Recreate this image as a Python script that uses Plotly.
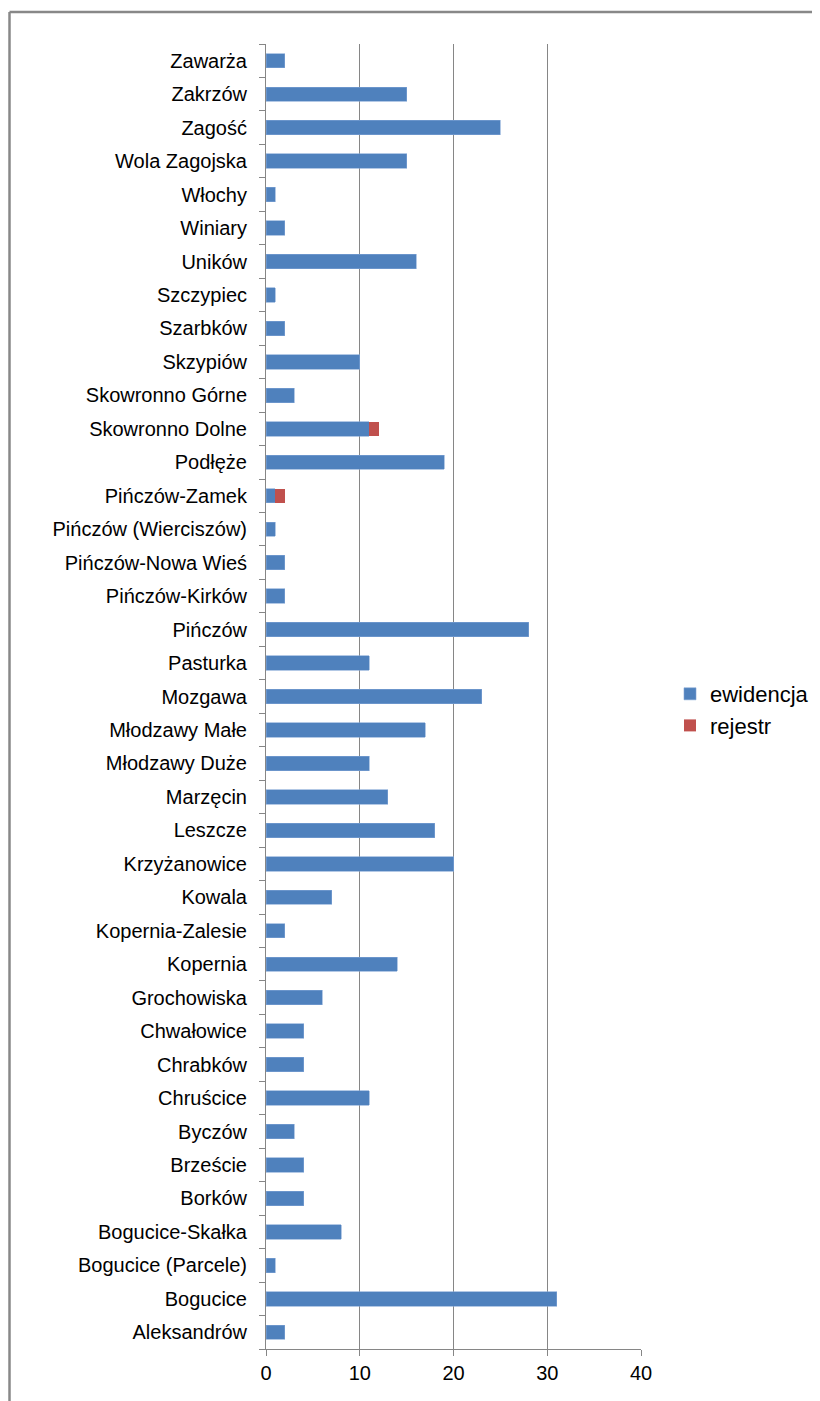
import plotly.graph_objects as go

categories = [
    "Aleksandrów", "Bogucice", "Bogucice (Parcele)", "Bogucice-Skałka", "Borków",
    "Brzeście", "Byczów", "Chruścice", "Chrabków", "Chwałowice", "Grochowiska",
    "Kopernia", "Kopernia-Zalesie", "Kowala", "Krzyżanowice", "Leszcze", "Marzęcin",
    "Młodzawy Duże", "Młodzawy Małe", "Mozgawa", "Pasturka", "Pińczów",
    "Pińczów-Kirków", "Pińczów-Nowa Wieś", "Pińczów (Wierciszów)", "Pińczów-Zamek",
    "Podłęże", "Skowronno Dolne", "Skowronno Górne", "Skzypiów", "Szarbków",
    "Szczypiec", "Uników", "Winiary", "Włochy", "Wola Zagojska", "Zagość",
    "Zakrzów", "Zawarża",
]
ewidencja = [2, 31, 1, 8, 4, 4, 3, 11, 4, 4, 6, 14, 2, 7, 20, 18, 13, 11, 17, 23,
             11, 28, 2, 2, 1, 1, 19, 11, 3, 10, 2, 1, 16, 2, 1, 15, 25, 15, 2]
rejestr = [0, 0, 0, 0, 0, 0, 0, 0, 0, 0, 0, 0, 0, 0, 0, 0, 0, 0, 0, 0,
           0, 0, 0, 0, 0, 1, 0, 1, 0, 0, 0, 0, 0, 0, 0, 0, 0, 0, 0]
x_ticks = [0, 10, 20, 30, 40]

FONT = "Liberation Sans, Arial, sans-serif"

# page body has an 8px margin: figure is shrunk/shifted to compensate
W, H = 812, 1393
L, R, T, B = 258, 179, 36, 52
PW, PH = W - L - R, H - T - B

fig = go.Figure()
fig.add_trace(go.Bar(
    y=categories, x=ewidencja, orientation="h", name="ewidencja",
    legendgroup="a",
    marker=dict(color="#4F81BD", line=dict(color="#7FA3D3", width=0.6)),
))
fig.add_trace(go.Bar(
    y=categories, x=rejestr, orientation="h", name="rejestr",
    legendgroup="b",
    marker=dict(color="#C0504D", line=dict(width=0)),
))

fig.update_layout(
    width=W, height=H,
    barmode="stack", bargap=0.57,
    plot_bgcolor="white", paper_bgcolor="white",
    margin=dict(l=L, r=R, t=T, b=B, autoexpand=False),
    font=dict(family=FONT, size=20, color="black"),
    showlegend=True,
    legend=dict(
        x=(662 - L) / PW, y=(H - B - 702) / PH, xanchor="left", yanchor="middle",
        font=dict(family=FONT, size=22, color="black"),
        itemwidth=30, tracegroupgap=20, traceorder="normal",
        bgcolor="rgba(0,0,0,0)",
    ),
    xaxis=dict(
        range=[0, 40], tickvals=x_ticks, ticktext=[str(v) for v in x_ticks],
        showgrid=True, gridcolor="#868686", gridwidth=1,
        zeroline=False, showline=True, linecolor="#868686", linewidth=1,
        ticks="outside", ticklen=6, tickcolor="#868686",
        tickfont=dict(family=FONT, size=20, color="black"),
        fixedrange=True,
    ),
    yaxis=dict(
        type="category", categoryorder="array", categoryarray=categories,
        showline=True, linecolor="#868686", linewidth=1,
        ticks="outside", ticklen=6, tickcolor="#868686", tickson="boundaries",
        showgrid=False, ticklabelstandoff=14,
        tickfont=dict(family=FONT, size=20, color="black"),
        fixedrange=True,
    ),
    shapes=[
        dict(type="line", xref="paper", yref="paper",
             x0=(1.5 - L) / PW, x1=(W + 10 - L) / PW,
             y0=(H - B - 4) / PH, y1=(H - B - 4) / PH,
             line=dict(color="#888888", width=2.5)),
        dict(type="line", xref="paper", yref="paper",
             x0=(1.5 - L) / PW, x1=(1.5 - L) / PW,
             y0=(H - B - 4) / PH, y1=(H - B - H - 20) / PH,
             line=dict(color="#888888", width=2.5)),
    ],
)

fig.write_html("out.html")
